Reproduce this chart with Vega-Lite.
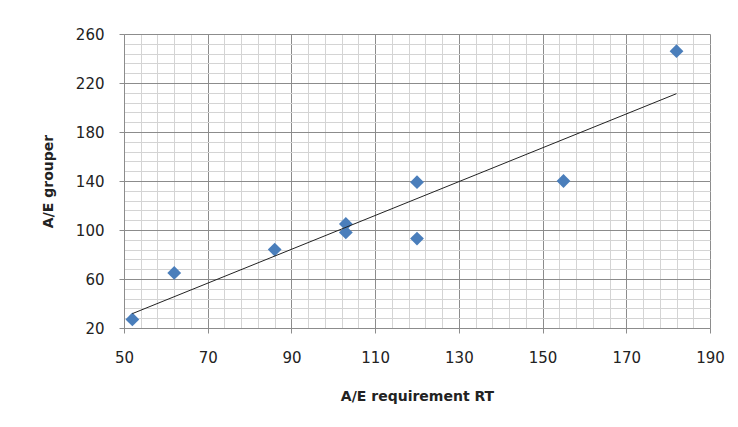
{
  "$schema": "https://vega.github.io/schema/vega-lite/v6.json",
  "width": 586,
  "height": 294,
  "autosize": "none",
  "padding": {"left": 124, "top": 34, "right": 28, "bottom": 99},
  "background": "white",
  "config": {"view": {"stroke": null}, "font": "DejaVu Sans"},
  "data": {"values": [
    {"x": 52, "y": 27},
    {"x": 62, "y": 65},
    {"x": 86, "y": 84},
    {"x": 103, "y": 105},
    {"x": 103, "y": 98},
    {"x": 120, "y": 139},
    {"x": 120, "y": 93},
    {"x": 155, "y": 140},
    {"x": 182, "y": 246}
  ]},
  "resolve": {"axis": {"x": "independent", "y": "independent"}},
  "layer": [
    {
      "mark": {"type": "point", "opacity": 0},
      "encoding": {
        "x": {"field": "x", "type": "quantitative", "scale": {"domain": [50, 190], "nice": false, "zero": false},
          "axis": {"orient": "bottom", "values": [50,54,58,62,66,70,74,78,82,86,90,94,98,102,106,110,114,118,122,126,130,134,138,142,146,150,154,158,162,166,170,174,178,182,186,190],
            "grid": true, "gridColor": "#d4d4d4", "gridWidth": 1, "labels": false, "ticks": false, "domain": false, "title": null}},
        "y": {"field": "y", "type": "quantitative", "scale": {"domain": [20, 260], "nice": false, "zero": false},
          "axis": {"orient": "left", "values": [20,28,36,44,52,60,68,76,84,92,100,108,116,124,132,140,148,156,164,172,180,188,196,204,212,220,228,236,244,252,260],
            "grid": true, "gridColor": "#d4d4d4", "gridWidth": 1, "labels": false, "ticks": false, "domain": false, "title": null}}
      }
    },
    {
      "mark": {"type": "point", "shape": "diamond", "filled": true, "size": 190, "color": "#4a7ebb", "opacity": 1},
      "encoding": {
        "x": {"field": "x", "type": "quantitative", "scale": {"domain": [50, 190], "nice": false, "zero": false},
          "axis": {"orient": "bottom", "values": [50,70,90,110,130,150,170,190], "grid": true, "gridColor": "#8c8c8c", "gridWidth": 1,
            "domainColor": "#8c8c8c", "tickColor": "#8c8c8c", "tickSize": 5, "labelPadding": 17, "labelFontSize": 15, "labelColor": "#222",
            "labelFlush": false, "labelOverlap": false,
            "title": "A/E requirement RT", "titleFontSize": 14, "titleFontWeight": "bold", "titleColor": "#222", "titlePadding": 24}},
        "y": {"field": "y", "type": "quantitative", "scale": {"domain": [20, 260], "nice": false, "zero": false},
          "axis": {"orient": "left", "values": [20,60,100,140,180,220,260], "grid": true, "gridColor": "#8c8c8c", "gridWidth": 1,
            "domainColor": "#8c8c8c", "tickColor": "#8c8c8c", "tickSize": 5, "labelPadding": 15, "labelFontSize": 15, "labelColor": "#222",
            "labelFlush": false, "labelOverlap": false,
            "title": "A/E grouper", "titleFontSize": 14, "titleFontWeight": "bold", "titleColor": "#222", "titlePadding": 20}}
      }
    },
    {
      "transform": [{"regression": "y", "on": "x"}],
      "mark": {"type": "line", "color": "#222", "strokeWidth": 1},
      "encoding": {
        "x": {"field": "x", "type": "quantitative", "scale": {"domain": [50, 190], "nice": false, "zero": false}, "axis": null},
        "y": {"field": "y", "type": "quantitative", "scale": {"domain": [20, 260], "nice": false, "zero": false}, "axis": null}
      }
    }
  ]
}
